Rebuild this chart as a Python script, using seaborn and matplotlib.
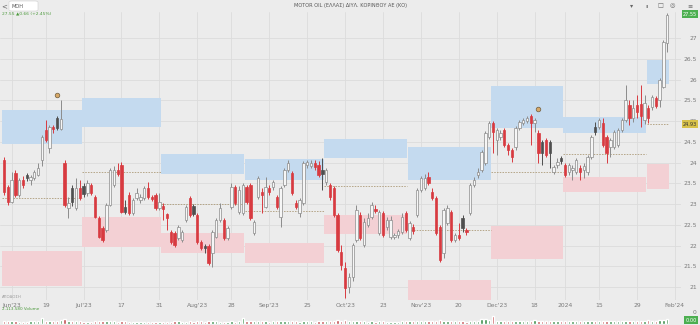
import matplotlib
matplotlib.use("Agg")
import matplotlib.pyplot as plt
from matplotlib.patches import Rectangle, FancyBboxPatch
import numpy as np
import pandas as pd
import seaborn as sns

sns.set_theme(style="white")
plt.rcParams['font.family'] = ['DejaVu Sans']

# ---------------- data ----------------
holidays = ['2023-06-05', '2023-08-15', '2023-12-25', '2023-12-26', '2024-01-01']

opens = [
    # Jun
    24.06, 23.41, 23.05, 23.75, 23.22, 23.58, 23.70, 23.58, 23.63, 23.70, 24.06, 24.78, 24.35, 24.86, 25.07, 24.81, 23.99, 22.90, 23.39, 22.90, 23.39,
    # Jul
    23.43, 23.27, 23.46, 23.17, 22.66, 22.42, 22.37, 22.98, 23.46, 23.82, 23.94, 22.93, 23.22, 22.78, 23.15, 23.10, 23.15, 23.39, 23.17, 23.22, 22.90,
    # Aug
    22.95, 22.76, 22.33, 22.30, 22.18, 22.13, 22.61, 23.15, 22.95, 22.73, 22.08, 21.99, 21.99, 21.82, 22.21, 22.61, 22.61, 22.18, 22.93, 23.41, 22.81, 22.78,
    # Sep
    23.41, 23.46, 22.30, 23.17, 23.29, 22.93, 23.39, 23.41, 23.17, 22.69, 23.46, 23.82, 23.75, 23.02, 22.78, 23.02, 23.94, 23.92, 23.99, 23.94, 23.82,
    # Oct
    23.53, 23.46, 23.39, 22.73, 21.84, 21.46, 21.00, 21.25, 22.13, 22.73, 22.01, 22.49, 22.69, 22.88, 22.30, 22.78, 22.45, 22.21, 22.21, 22.25, 22.33, 22.78,
    # Nov
    22.18, 22.45, 22.73, 23.34, 23.39, 23.65, 23.29, 23.15, 22.45, 21.82, 22.54, 22.81, 22.13, 22.25, 22.66, 22.37, 22.78, 23.46, 23.70, 23.82, 23.99, 24.61,
    # Dec
    24.95, 24.54, 24.61, 24.78, 24.42, 24.30, 24.37, 24.83, 24.95, 25.00, 25.12, 24.95, 24.71, 24.49, 24.54, 24.49, 23.77, 23.94, 24.11,
    # Jan
    23.94, 23.77, 23.82, 23.77, 23.87, 23.82, 23.77, 24.13, 24.86, 24.86, 24.95, 24.61, 24.37, 24.37, 24.42, 24.78, 25.02, 25.39, 25.07, 25.39, 25.41, 25.02,
    # Feb
    25.31, 25.34, 25.55, 25.51, 25.82, 26.88,
]
highs = [
    24.13, 23.46, 23.77, 23.82, 23.63, 23.67, 23.75, 23.70, 23.82, 23.99, 24.66, 25.02, 24.90, 24.90, 25.12, 25.51, 24.06, 23.17, 23.46, 23.63, 23.58,
    23.51, 23.58, 23.51, 23.22, 22.71, 22.47, 23.02, 23.87, 23.92, 23.99, 24.01, 23.10, 23.29, 23.15, 23.39, 23.24, 23.43, 23.53, 23.22, 23.27, 23.27,
    23.02, 22.78, 22.37, 22.35, 22.49, 22.37, 22.98, 23.19, 23.00, 22.78, 22.13, 22.04, 22.04, 22.37, 22.66, 23.02, 22.66, 22.47, 23.51, 23.46, 23.43, 23.51,
    23.46, 23.51, 22.61, 23.67, 23.39, 23.65, 23.46, 23.58, 23.22, 23.43, 23.87, 24.06, 23.80, 23.10, 23.15, 24.04, 24.06, 24.06, 24.06, 24.04, 24.11,
    23.87, 23.51, 23.43, 22.78, 22.01, 21.60, 21.35, 22.06, 22.98, 22.81, 22.66, 22.78, 23.05, 22.98, 22.86, 22.83, 22.69, 22.71, 22.30, 22.40, 22.78, 22.83,
    22.59, 22.52, 23.39, 23.67, 23.72, 23.77, 23.39, 23.19, 22.49, 22.90, 22.98, 22.86, 22.30, 22.54, 22.73, 22.42, 23.51, 23.65, 23.87, 24.30, 24.76, 25.00,
    25.00, 24.83, 24.78, 24.83, 24.47, 24.35, 24.88, 25.02, 25.07, 25.12, 25.17, 25.07, 24.78, 24.54, 24.59, 24.54, 23.94, 24.11, 24.16,
    23.99, 23.99, 23.94, 24.11, 23.94, 23.99, 24.18, 24.66, 24.98, 25.07, 25.07, 24.66, 24.59, 24.78, 24.83, 25.07, 25.87, 25.51, 25.51, 25.63, 25.87, 25.63,
    25.39, 25.63, 25.60, 26.04, 26.95, 27.60,
]
lows = [
    23.22, 22.98, 23.02, 23.17, 23.17, 23.39, 23.55, 23.46, 23.58, 23.67, 23.92, 24.49, 24.23, 24.71, 24.78, 24.78, 22.93, 22.66, 22.95, 22.86, 23.10,
    23.17, 23.19, 23.22, 22.66, 22.18, 22.08, 22.33, 22.95, 23.41, 23.67, 22.78, 22.76, 22.73, 22.73, 23.10, 23.02, 23.10, 23.12, 23.07, 22.86, 22.86,
    22.61, 22.37, 22.04, 21.96, 22.13, 22.08, 22.57, 22.69, 22.71, 22.04, 21.89, 21.82, 21.53, 21.48, 22.18, 22.57, 22.13, 22.13, 22.88, 22.98, 22.76, 22.73,
    23.00, 22.61, 22.25, 23.12, 22.78, 22.90, 23.22, 23.34, 22.88, 22.45, 23.41, 23.77, 23.22, 22.88, 22.69, 22.98, 23.87, 23.87, 23.82, 23.65, 23.34,
    23.46, 23.10, 22.69, 21.84, 21.41, 20.73, 20.85, 21.15, 22.08, 22.13, 21.96, 22.45, 22.64, 22.78, 22.25, 22.21, 22.37, 22.16, 22.16, 22.18, 22.28, 22.33,
    22.13, 22.28, 22.69, 23.29, 23.34, 23.46, 23.10, 22.25, 21.60, 21.70, 22.49, 22.08, 22.08, 22.13, 22.33, 22.25, 22.73, 23.41, 23.63, 23.77, 23.94, 24.57,
    24.23, 24.18, 24.54, 24.37, 24.18, 24.01, 24.30, 24.78, 24.90, 24.95, 24.42, 24.73, 23.99, 23.94, 24.13, 23.87, 23.72, 23.87, 23.96,
    23.65, 23.70, 23.58, 23.72, 23.58, 23.63, 23.70, 24.08, 24.66, 24.81, 24.37, 23.99, 24.13, 24.33, 24.37, 24.73, 24.98, 24.90, 24.98, 25.07, 24.86, 24.93,
    24.95, 25.27, 25.31, 25.34, 25.80, 26.66,
]
closes = [
    23.29, 23.05, 23.58, 23.22, 23.58, 23.46, 23.63, 23.65, 23.77, 23.87, 24.61, 24.54, 24.86, 24.81, 24.83, 25.05, 22.98, 23.02, 23.05, 23.39, 23.15,
    23.24, 23.51, 23.27, 22.69, 22.21, 22.13, 22.98, 23.82, 23.82, 23.72, 22.81, 22.81, 22.78, 23.10, 23.27, 23.17, 23.39, 23.17, 23.12, 22.90, 23.05,
    22.88, 22.66, 22.08, 22.01, 22.45, 22.33, 22.93, 22.73, 22.76, 22.08, 21.94, 21.94, 21.58, 22.33, 22.61, 22.90, 22.18, 22.42, 23.41, 23.02, 23.34, 23.46,
    23.05, 22.66, 22.57, 23.63, 23.22, 23.41, 23.29, 23.53, 22.93, 23.39, 23.82, 23.99, 23.27, 22.93, 23.10, 23.99, 24.01, 23.99, 23.89, 23.70, 23.72,
    23.82, 23.17, 22.73, 21.89, 21.53, 20.98, 21.25, 22.01, 22.86, 22.18, 22.57, 22.66, 22.98, 22.83, 22.81, 22.25, 22.61, 22.61, 22.25, 22.35, 22.69, 22.37,
    22.54, 22.35, 23.34, 23.63, 23.63, 23.51, 23.15, 22.30, 21.65, 22.86, 22.90, 22.13, 22.25, 22.18, 22.42, 22.33, 23.46, 23.58, 23.77, 24.25, 24.71, 24.95,
    24.73, 24.78, 24.71, 24.42, 24.30, 24.13, 24.83, 24.98, 25.02, 25.07, 24.95, 25.02, 24.23, 24.23, 24.18, 24.23, 23.89, 24.01, 24.04,
    23.70, 23.94, 23.87, 24.06, 23.77, 23.92, 24.13, 24.61, 24.73, 25.02, 24.42, 24.23, 24.54, 24.73, 24.78, 25.02, 25.51, 25.07, 25.31, 25.22, 25.12, 25.43,
    25.07, 25.58, 25.36, 25.99, 26.90, 27.55,
]
volumes = [  # thousands of shares
    260, 240, 230, 250, 220, 210, 200, 230, 240, 260, 520, 300, 280, 250, 270, 330, 420, 260, 240, 250, 230,
    220, 210, 200, 230, 260, 250, 240, 280, 230, 220, 300, 240, 220, 210, 200, 190, 210, 200, 190, 210, 200,
    200, 190, 220, 240, 230, 210, 220, 240, 210, 230, 250, 220, 260, 280, 230, 220, 210, 200, 250, 220, 240, 500,
    260, 250, 240, 270, 230, 240, 220, 230, 240, 250, 260, 240, 250, 230, 220, 270, 240, 230, 220, 230, 250,
    240, 250, 280, 360, 300, 380, 300, 290, 260, 240, 230, 220, 240, 210, 230, 240, 220, 210, 200, 220, 230, 240,
    230, 240, 260, 250, 240, 230, 240, 300, 380, 300, 260, 270, 250, 240, 230, 220, 300, 280, 270, 420, 440, 400,
    700, 280, 250, 240, 260, 250, 270, 240, 230, 250, 260, 400, 300, 270, 260, 250, 240, 230, 240,
    250, 240, 230, 250, 240, 230, 260, 300, 280, 270, 290, 280, 260, 250, 240, 260, 300, 280, 270, 260, 250, 280,
    380, 300, 280, 330, 400, 450,
]

tick_dates = ['2023-06-06', '2023-06-19', '2023-07-03', '2023-07-17', '2023-07-31', '2023-08-14',
              '2023-08-28', '2023-09-11', '2023-09-25', '2023-10-09', '2023-10-23', '2023-11-06',
              '2023-11-20', '2023-12-04', '2023-12-18', '2024-01-02', '2024-01-15', '2024-01-29',
              '2024-02-12']
tick_labels = ["Jun'23", "19", "Jul'23", "17", "31", "Aug'23", "28", "Sep'23", "25", "Oct'23",
               "23", "Nov'23", "20", "Dec'23", "18", "2024", "15", "29", "Feb'24"]

zone_months = ['2023-06', '2023-07', '2023-08', '2023-09', '2023-10', '2023-11', '2023-12', '2024-01', '2024-02']
blue_hi = [25.27, 25.55, 24.21, 24.08, 24.57, 24.37, 25.84, 25.10, 26.47]
blue_lo = [24.45, 24.86, 23.72, 23.58, 24.11, 23.58, 24.83, 24.71, 25.89]
pink_hi = [21.87, 22.69, 22.30, 22.06, 22.73, 21.17, 22.47, 23.65, 23.96]
pink_lo = [21.02, 21.96, 21.82, 21.58, 22.28, 20.69, 21.67, 23.29, 23.36]
mid_level = [23.15, 23.77, 23.00, 22.83, 23.43, 22.37, 23.77, 24.21, 24.93]

marker_dates = ['2023-06-22', '2023-12-19']
marker_price = [25.63, 25.30]

y_ticks = [21, 21.5, 22, 22.5, 23, 23.5, 24, 24.5, 25, 25.5, 26, 26.5, 27]

# ---------------- frame ----------------
cal = pd.bdate_range('2023-06-01', '2024-02-16')
cal = cal[~cal.isin(pd.to_datetime(holidays))]
n = len(closes)
df = pd.DataFrame({'date': cal[:n], 'open': opens, 'high': highs, 'low': lows,
                   'close': closes, 'volume': volumes})
df['i'] = np.arange(n)
df['month'] = df['date'].dt.strftime('%Y-%m')
prev = df['close'].shift(1).fillna(df['open'])
up = df['close'] >= df['open']
kind = np.where(up, 'up', np.where(df['close'] < prev, 'down', 'dark'))
df['kind'] = kind
df['vdir'] = np.where(up, 'g', 'r')

BG = '#ececec'
W, H = 700, 325
fig = plt.figure(figsize=(7, 3.25), dpi=100, facecolor=BG)

def fx(px):
    return px / W

def fy(py):
    return 1 - py / H

step, x0 = 3.79, 4.0
xl = (-x0 / step, (681 - x0) / step)

ax = fig.add_axes([0, fy(300), fx(681), fy(12) - fy(300)])
ax.set_facecolor(BG)
ax.set_xlim(*xl)
ax.set_ylim(20.69, 27.63)
for s in ax.spines.values():
    s.set_visible(False)

tick_pos = cal.get_indexer(pd.to_datetime(tick_dates))
ax.set_xticks(tick_pos)
ax.set_xticklabels(tick_labels)
ax.set_yticks(y_ticks)
ax.set_yticklabels([f'{v:g}' for v in y_ticks])
ax.yaxis.tick_right()
ax.tick_params(axis='y', length=0, labelsize=4.3, labelcolor='#7a7a7a', pad=11.5)
ax.tick_params(axis='x', length=0, labelsize=4.3, labelcolor='#7a7a7a', pad=2.5)
for lbl in ax.get_yticklabels():
    lbl.set_ha('right')
ax.grid(True, color='#dcdcdc', lw=0.6)
ax.set_axisbelow(True)

# monthly zones
for m, bh, bl, ph, pl, lv in zip(zone_months, blue_hi, blue_lo, pink_hi, pink_lo, mid_level):
    idx = df.index[df['month'] == m]
    a, b = idx.min() - 0.45, idx.max() + 0.45
    ax.add_patch(Rectangle((a, bl), b - a, bh - bl, facecolor='#c4daef', edgecolor='none', zorder=1))
    ax.add_patch(Rectangle((a, pl), b - a, ph - pl, facecolor='#f3d0d4', edgecolor='none', zorder=1))
    ax.hlines(lv, a, b, colors='#a8946f', linestyles=(0, (2, 1.6)), lw=0.55, zorder=2)

# candles
face = {'up': '#f6f6f6', 'down': '#d83a40', 'dark': '#4f4f4f'}
edge = {'up': '#8c8c8c', 'down': '#d83a40', 'dark': '#4f4f4f'}
wick = {'up': '#8c8c8c', 'down': '#d83a40', 'dark': '#4f4f4f'}
ax.vlines(df['i'], df['low'], df['high'], colors=[wick[k] for k in df['kind']], lw=0.7, zorder=3)
body_lo = df[['open', 'close']].min(axis=1)
body_h = (df['open'] - df['close']).abs().clip(lower=0.03)
ax.bar(df['i'], body_h, bottom=body_lo, width=0.62,
       color=[face[k] for k in df['kind']], edgecolor=[edge[k] for k in df['kind']],
       lw=0.5, zorder=4)

# high markers
mpos = cal.get_indexer(pd.to_datetime(marker_dates))
ax.scatter(mpos, marker_price, s=11, facecolor='#d7a867', edgecolor='#6e5c3e', lw=0.5, zorder=6)

# volume
axv = fig.add_axes([0, fy(324), fx(681), (324 - 315) / H])
axv.set_facecolor(BG)
sns.barplot(data=df, x='i', y='volume', hue='vdir', palette={'g': '#2f9e44', 'r': '#d83a40'},
            dodge=False, legend=False, errorbar=None, width=0.62, ax=axv, order=list(range(n)))
axv.set_xlim(*xl)
axv.set_ylim(0, 800)
axv.axis('off')

# ---------------- header & labels ----------------
fig.text(fx(4), fy(6), '<', fontsize=5, color='#666', va='center', ha='center')
fig.patches.append(FancyBboxPatch((fx(9), fy(11)), fx(29), (10) / H, boxstyle='round,pad=0,rounding_size=0.004',
                                  transform=fig.transFigure, facecolor='white', edgecolor='#cfcfcf', lw=0.4))
fig.text(fx(12), fy(6), 'MOH', fontsize=3.6, color='#555', va='center')
fig.text(fx(350), fy(6), 'MOTOR OIL (ΕΛΛΑΣ) ΔΙΥΛ. ΚΟΡΙΝΘΟΥ ΑΕ (ΚΟ)', fontsize=3.6, color='#555',
         ha='center', va='center')
for px, sym in [(632, '▾'), (647, 'ıı'), (660, '□'), (672, '◎'), (690, '≡')]:
    fig.text(fx(px), fy(6), sym, fontsize=4.5, color='#666', ha='center', va='center')
fig.text(fx(2), fy(13.5), '27.55 ▲0.66 (+2.45%)', fontsize=3.2, color='#4c9a3c', va='center')

def price_tag(py, txt, fc, tc):
    fig.text(fx(697), fy(py), txt, fontsize=3.6, color=tc, ha='right', va='center',
             bbox=dict(boxstyle='square,pad=0.25', facecolor=fc, edgecolor='none'))

price_tag(14, f'{closes[-1]:.2f}', '#4caf50', 'white')
price_tag(124, f'{mid_level[-1]:.2f}', '#d8c24a', '#333')
fig.text(fx(696), fy(313), '0', fontsize=4.3, color='#7a7a7a', ha='right', va='center')
price_tag(320, '0.00', '#4caf50', 'white')
fig.text(fx(2), fy(297), 'ΑΠΟΔΟΣΗ', fontsize=2.8, color='#999', va='center')
fig.text(fx(2), fy(309.5), '2.113.580 Volume', fontsize=3.0, color='#4c9a3c', va='center')

fig.savefig('out.png', dpi=100, facecolor=BG)
